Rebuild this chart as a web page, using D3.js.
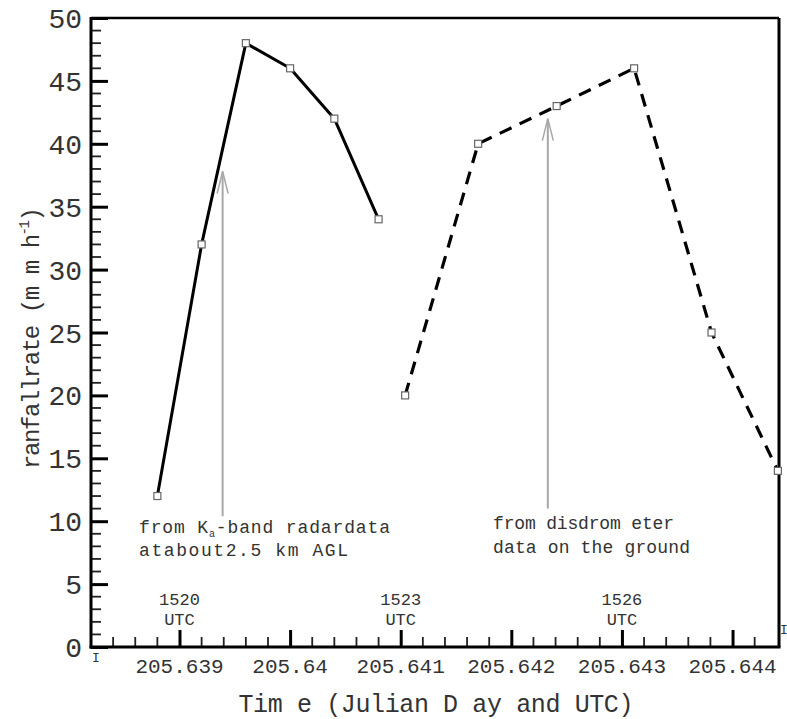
<!DOCTYPE html>
<html>
<head>
<meta charset="utf-8">
<script src="https://cdn.jsdelivr.net/npm/d3@7"></script>
<style>
  html, body { margin: 0; padding: 0; background: #fff; }
  svg { display: block; }
  text { font-family: "Liberation Mono", "DejaVu Sans Mono", monospace; fill: #333; }
</style>
</head>
<body>
<svg id="chart" width="787" height="719"></svg>
<script>
// ---- data ----
const radarTime = [205.6388, 205.6392, 205.6396, 205.6400, 205.6404, 205.6408];
const radarRate = [12, 32, 48, 46, 42, 34];
const disdroTime = [205.64104, 205.6417, 205.64241, 205.64311, 205.64381, 205.64441];
const disdroRate = [20, 40, 43, 46, 25, 14];
const xTickValues = [205.639, 205.640, 205.641, 205.642, 205.643, 205.644];
const xTickLabels = ["205.639", "205.64", "205.641", "205.642", "205.643", "205.644"];
const yTickValues = [0, 5, 10, 15, 20, 25, 30, 35, 40, 45, 50];
const xMinorTicks = [205.6384, 205.6386, 205.6388, 205.6392, 205.6394, 205.6396, 205.6398,
  205.6402, 205.6404, 205.6406, 205.6408, 205.6412, 205.6414, 205.6416, 205.6418,
  205.6422, 205.6424, 205.6426, 205.6428, 205.6432, 205.6434, 205.6436, 205.6438, 205.6442];
const yMinorTicks = [1, 2, 3, 4, 6, 7, 8, 9, 11, 12, 13, 14, 16, 17, 18, 19, 21, 22, 23, 24,
  26, 27, 28, 29, 31, 32, 33, 34, 36, 37, 38, 39, 41, 42, 43, 44, 46, 47, 48, 49];
const utcTimes = [205.639, 205.641, 205.643];
const utcLabels = ["1520", "1523", "1526"];
const arrowTimes = [205.63939, 205.64233];
const arrowFrom = [10.4, 11.0];
const arrowTo = [37.8, 42.0];

// ---- layout ----
const svg = d3.select("#chart");
const pL = 91, pR = 779, pT = 18, pB = 647;
const x = d3.scaleLinear().domain([205.6382, 205.64442]).range([pL, pR]);
const y = d3.scaleLinear().domain([0, 50]).range([pB, pT]);

// frame top/right
svg.append("line").attr("x1", pL).attr("x2", pR).attr("y1", pT).attr("y2", pT)
  .attr("stroke", "#000").attr("stroke-width", 2.5);
svg.append("line").attr("x1", pR).attr("x2", pR).attr("y1", pT).attr("y2", pB)
  .attr("stroke", "#000").attr("stroke-width", 3);

// y axis (major)
const gy = svg.append("g").attr("transform", `translate(${pL},0)`)
  .call(d3.axisRight(y).tickValues(yTickValues).tickSize(17).tickFormat(""));
gy.select(".domain").remove();
gy.selectAll(".tick line").attr("stroke", "#000").attr("stroke-width", 3);
svg.append("g").selectAll("text").data(yTickValues).join("text")
  .attr("x", pL - 9).attr("y", d => y(d)).attr("dy", "0.36em")
  .attr("text-anchor", "end").attr("font-size", 28).text(d => d);

// x axis (major)
const gx = svg.append("g").attr("transform", `translate(0,${pB})`)
  .call(d3.axisTop(x).tickValues(xTickValues).tickSize(17).tickFormat(""));
gx.select(".domain").remove();
gx.selectAll(".tick line").attr("stroke", "#000").attr("stroke-width", 3);
svg.append("g").selectAll("text").data(xTickValues).join("text")
  .attr("x", d => x(d)).attr("y", 673).attr("text-anchor", "middle")
  .attr("font-size", 21).text((d, i) => xTickLabels[i]);

// minor ticks as small filled rects
svg.append("g").selectAll("rect").data(xMinorTicks).join("rect")
  .attr("x", d => x(d) - 0.9).attr("y", pB - 10).attr("width", 1.8).attr("height", 10)
  .attr("fill", "#222");
svg.append("g").selectAll("rect").data(yMinorTicks).join("rect")
  .attr("x", pL).attr("y", d => y(d) - 0.9).attr("width", 10).attr("height", 1.8)
  .attr("fill", "#222");

// axis lines
svg.append("line").attr("x1", pL).attr("x2", pL).attr("y1", pT - 1).attr("y2", pB + 1.5)
  .attr("stroke", "#000").attr("stroke-width", 3);
svg.append("line").attr("x1", pL - 1.5).attr("x2", pR + 1.5).attr("y1", pB).attr("y2", pB)
  .attr("stroke", "#000").attr("stroke-width", 3);

// UTC labels
const utc = svg.append("g").selectAll("g").data(utcTimes).join("g");
utc.append("text").attr("x", d => x(d)).attr("y", 605).attr("text-anchor", "middle")
  .attr("font-size", 17).text((d, i) => utcLabels[i]);
utc.append("text").attr("x", d => x(d)).attr("y", 625).attr("text-anchor", "middle")
  .attr("font-size", 17).text("UTC");

// stray "I" marks
svg.append("text").attr("x", 96).attr("y", 662).attr("text-anchor", "middle").attr("font-size", 13).text("I");
svg.append("text").attr("x", 784).attr("y", 634).attr("text-anchor", "middle").attr("font-size", 13).text("I");

// arrows
const arrows = svg.append("g").selectAll("g").data(arrowTimes).join("g");
arrows.append("line").attr("x1", d => x(d)).attr("x2", d => x(d))
  .attr("y1", (d, i) => y(arrowFrom[i])).attr("y2", (d, i) => y(arrowTo[i]))
  .attr("stroke", "#a8a8a8").attr("stroke-width", 2);
arrows.append("path")
  .attr("d", (d, i) => `M${x(d) - 5.5},${y(arrowTo[i]) + 22} L${x(d)},${y(arrowTo[i])} L${x(d) + 5.5},${y(arrowTo[i]) + 22}`)
  .attr("fill", "none").attr("stroke", "#a8a8a8").attr("stroke-width", 1.5);

// lines
const radar = radarTime.map((t, i) => [t, radarRate[i]]);
const disdro = disdroTime.map((t, i) => [t, disdroRate[i]]);
const line = d3.line().x(d => x(d[0])).y(d => y(d[1]));
svg.append("path").attr("d", line(radar)).attr("fill", "none")
  .attr("stroke", "#000").attr("stroke-width", 3).attr("stroke-linejoin", "round");
svg.append("path").attr("d", line(disdro)).attr("fill", "none")
  .attr("stroke", "#000").attr("stroke-width", 3.2).attr("stroke-dasharray", "13,9");

// markers
const markers = radar.concat(disdro);
svg.append("g").selectAll("rect").data(markers).join("rect")
  .attr("x", d => x(d[0]) - 3.5).attr("y", d => y(d[1]) - 3.5)
  .attr("width", 7).attr("height", 7)
  .attr("fill", "#fff").attr("stroke", "#666").attr("stroke-width", 1.2);

// annotations
const a1 = svg.append("text").attr("x", 139).attr("y", 533).attr("font-size", 18)
  .attr("textLength", 251).attr("lengthAdjust", "spacing");
a1.append("tspan").text("from K");
a1.append("tspan").attr("font-size", 10).attr("dy", 4).text("a");
a1.append("tspan").attr("dy", -4).text("-band radardata");
svg.append("text").attr("x", 139).attr("y", 556).attr("font-size", 18)
  .attr("textLength", 209).attr("lengthAdjust", "spacing").text("atabout2.5 km AGL");
svg.append("text").attr("x", 493).attr("y", 529).attr("font-size", 18)
  .attr("textLength", 181).attr("lengthAdjust", "spacing").text("from disdrom eter");
svg.append("text").attr("x", 493).attr("y", 553).attr("font-size", 18)
  .attr("textLength", 197).attr("lengthAdjust", "spacing").text("data on the ground");

// axis titles
svg.append("text").attr("x", 436).attr("y", 712).attr("text-anchor", "middle")
  .attr("font-size", 25).attr("textLength", 395).attr("lengthAdjust", "spacing")
  .text("Tim e (Julian D ay and UTC)");
const yl = svg.append("text").attr("transform", "translate(39,338) rotate(-90)")
  .attr("text-anchor", "middle").attr("font-size", 24)
  .attr("textLength", 262).attr("lengthAdjust", "spacing");
yl.append("tspan").text("ranfallrate (m m h");
yl.append("tspan").attr("font-size", 14).attr("dy", -10).text("-1");
yl.append("tspan").attr("dy", 10).text(")");
</script>
</body>
</html>
